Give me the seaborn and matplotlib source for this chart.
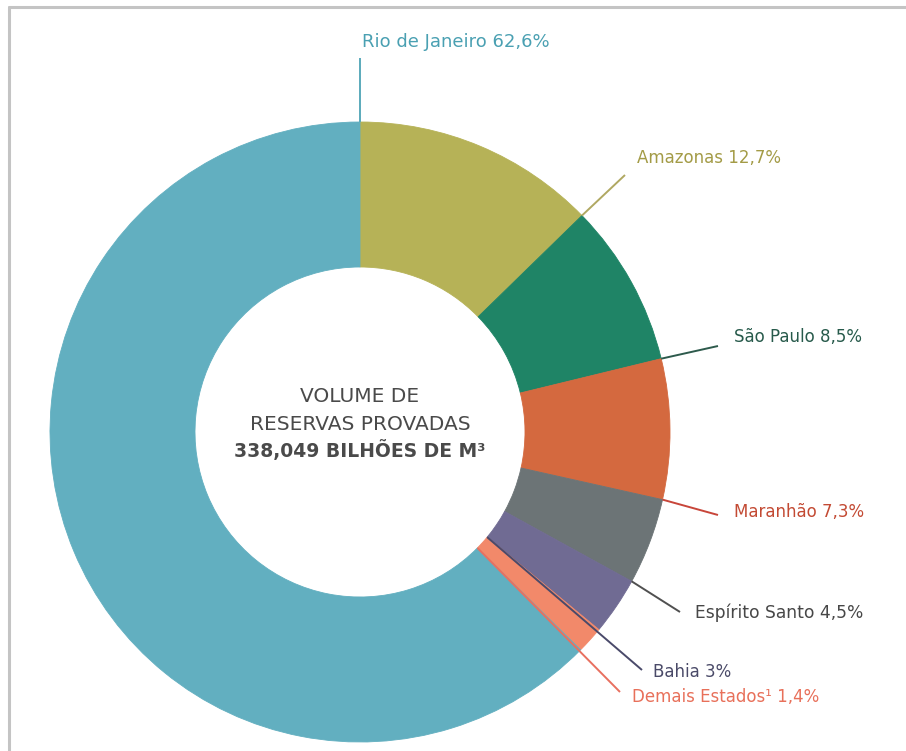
import numpy as np
import matplotlib
matplotlib.use("Agg")
import matplotlib.pyplot as plt
import seaborn as sns

# Proved natural-gas reserves by state (share of total, %)
states = ["Amazonas", "São Paulo", "Maranhão", "Espírito Santo",
          "Bahia", "Demais Estados¹", "Rio de Janeiro"]
shares = [12.7, 8.5, 7.3, 4.5, 3.0, 1.4, 62.6]
caption = ["VOLUME DE", "RESERVAS PROVADAS", "338,049 BILHÕES DE M³"]

slice_colors = ["#b6b257", "#1f8466", "#d4693f", "#6c7476",
                "#706b93", "#f2896a", "#62afc0"]
text_colors = ["#a39b46", "#275a4b", "#c34a33", "#474747",
               "#4a4a68", "#e8705a", "#4aa0b2"]
line_colors = ["#b0a862", "#2d5a4c", "#c8463a", "#505050",
               "#4a4a6a", "#e87060", "#5aaabb"]

sns.set_theme(style="white")
plt.rcParams["font.family"] = ["DejaVu Sans"]

W, H = 906, 751
fig = plt.figure(figsize=(W / 100, H / 100), dpi=100)
ax = fig.add_axes([0, 0, 1, 1])


def py(y):
    """Convert a top-down pixel row to the y-up axis coordinate."""
    return H - y


cx, cy = 360, py(432)
R_out, R_in = 310, 165

wedges, _ = ax.pie(shares, colors=slice_colors, startangle=90,
                   counterclock=False, radius=R_out, center=(cx, cy),
                   wedgeprops=dict(width=R_out - R_in, linewidth=0.6))
for w, c in zip(wedges, slice_colors):
    w.set_edgecolor(c)


def polar(theta_deg, r):
    t = np.deg2rad(theta_deg)
    return cx + r * np.cos(t), cy + r * np.sin(t)


def pct(v):
    return f"{v:g}".replace(".", ",") + "%"


# leader layout: (start radius, line end in px, label left edge in px, size)
layout = {
    "Rio de Janeiro":  (R_out, (360, 58),  (362, 42), 13),
    "Amazonas":        (R_out, (625, 175), (637, 158), 12),
    "São Paulo":       (R_out, (718, 346), (734, 337), 12),
    "Maranhão":        (R_out, (718, 515), (734, 512), 12),
    "Espírito Santo":  (R_out, (680, 612), (695, 613), 12.3),
    "Bahia":           (R_in,  (642, 670), (653, 672), 12),
    "Demais Estados¹": (R_in,  (620, 692), (632, 697), 12),
}

for i, name in enumerate(states):
    w = wedges[i]
    r0, end, pos, size = layout[name]
    # each leader leaves from the clockwise edge of its wedge
    x0, y0 = polar(w.theta1, r0)
    ax.plot([x0, end[0]], [y0, py(end[1])], color=line_colors[i], lw=1.4,
            solid_capstyle="butt")
    ax.text(pos[0], py(pos[1]), f"{name} {pct(shares[i])}",
            color=text_colors[i], fontsize=size, ha="left", va="center")

# centre caption
for row, txt, weight, size in zip([396, 424, 451], caption,
                                  ["normal", "normal", "bold"],
                                  [14.5, 14.5, 13.5]):
    ax.text(cx, py(row), txt, ha="center", va="center", fontsize=size,
            color="#4a4a4a", fontweight=weight)

# panel frame (top and left edges)
ax.plot([9, W], [py(7), py(7)], color="#c4c4c4", lw=2.2, clip_on=False)
ax.plot([9, 9], [py(7), 0], color="#c4c4c4", lw=2.2, clip_on=False)

ax.set_xlim(0, W)
ax.set_ylim(0, H)
ax.set_aspect("equal")
ax.axis("off")

fig.savefig("out.png", dpi=100, facecolor="white")
